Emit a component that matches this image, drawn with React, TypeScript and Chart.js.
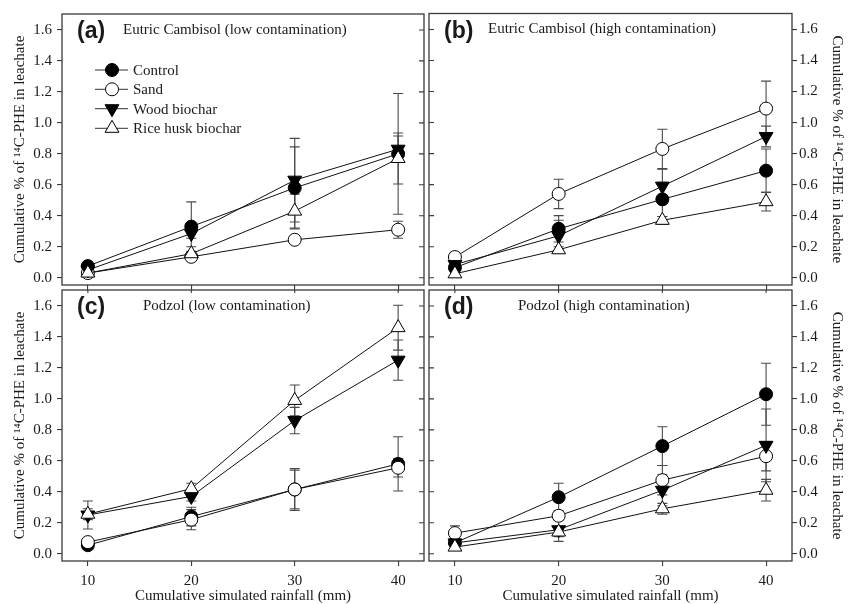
import React, { useEffect, useRef } from 'react';
import { Chart, registerables } from 'chart.js';

Chart.register(...registerables);

const W = 848;
const H = 604;

const xValues = [10, 20, 30, 40];
const xTicks = [10, 20, 30, 40];
const yTicks = [0, 0.2, 0.4, 0.6, 0.8, 1.0, 1.2, 1.4, 1.6];
const seriesNames = ['Control', 'Sand', 'Wood biochar', 'Rice husk biochar'];
const yTitle = 'Cumulative % of \u00B9\u2074C-PHE in leachate';
const xTitle = 'Cumulative simulated rainfall (mm)';

// (a) Eutric Cambisol (low contamination)
const aControl = [0.075, 0.33, 0.58, 0.8];
const aControlErr = [0.02, 0.16, 0.265, 0.39];
const aSand = [0.03, 0.135, 0.245, 0.31];
const aSandErr = [0.01, 0.02, 0.02, 0.055];
const aWood = [0.05, 0.285, 0.63, 0.83];
const aWoodErr = [0.01, 0.03, 0.27, 0.085];
const aRice = [0.03, 0.155, 0.43, 0.77];
const aRiceErr = [0.01, 0.045, 0.11, 0.165];

// (b) Eutric Cambisol (high contamination)
const bControl = [0.065, 0.315, 0.505, 0.69];
const bControlErr = [0.02, 0.085, 0.11, 0.14];
const bSand = [0.133, 0.54, 0.83, 1.09];
const bSandErr = [0.03, 0.095, 0.127, 0.177];
const bWood = [0.085, 0.27, 0.59, 0.91];
const bWoodErr = [0.02, 0.1, 0.11, 0.067];
const bRice = [0.025, 0.18, 0.37, 0.49];
const bRiceErr = [0.01, 0.02, 0.025, 0.06];

// (c) Podzol (low contamination)
const cControl = [0.055, 0.24, 0.415, 0.58];
const cControlErr = [0.01, 0.06, 0.135, 0.175];
const cSand = [0.075, 0.22, 0.415, 0.555];
const cSandErr = [0.01, 0.065, 0.125, 0.06];
const cWood = [0.25, 0.37, 0.86, 1.25];
const cWoodErr = [0.09, 0.03, 0.085, 0.13];
const cRice = [0.255, 0.42, 0.99, 1.46];
const cRiceErr = [0.035, 0.035, 0.1, 0.145];

// (d) Podzol (high contamination)
const dControl = [0.07, 0.365, 0.695, 1.03];
const dControlErr = [0.02, 0.09, 0.125, 0.2];
const dSand = [0.133, 0.245, 0.475, 0.63];
const dSandErr = [0.047, 0.03, 0.095, 0.095];
const dWood = [0.07, 0.155, 0.41, 0.7];
const dWoodErr = [0.02, 0.075, 0.1, 0.235];
const dRice = [0.043, 0.14, 0.29, 0.41];
const dRiceErr = [0.01, 0.03, 0.035, 0.07];

const Y_MIN = -0.047;
const Y_MAX = 1.703;
const X_MIN = 7.5;
const X_MAX = 42.5;

const SERIF = "'Liberation Serif', 'Times New Roman', serif";
const SANS = "'Liberation Sans', Arial, sans-serif";
const FRAME = '#3a3a3a';
const TEXT = '#1a1a1a';

type Marker = { style: 'circle' | 'triangle'; fill: string; radius: number; rotation: number };
const markers: Marker[] = [
  { style: 'circle', fill: '#000000', radius: 6.5, rotation: 0 },
  { style: 'circle', fill: '#ffffff', radius: 6.5, rotation: 0 },
  { style: 'triangle', fill: '#000000', radius: 8, rotation: 180 },
  { style: 'triangle', fill: '#ffffff', radius: 8, rotation: 0 },
];

type Panel = {
  tag: string;
  subtitle: string;
  col: 0 | 1;
  row: 0 | 1;
  values: number[][];
  errors: number[][];
  legend: boolean;
  subtitleX: number;
};

const panels: Panel[] = [
  {
    tag: '(a)', subtitle: 'Eutric Cambisol (low contamination)', col: 0, row: 0,
    values: [aControl, aSand, aWood, aRice], errors: [aControlErr, aSandErr, aWoodErr, aRiceErr],
    legend: true, subtitleX: 123,
  },
  {
    tag: '(b)', subtitle: 'Eutric Cambisol (high contamination)', col: 1, row: 0,
    values: [bControl, bSand, bWood, bRice], errors: [bControlErr, bSandErr, bWoodErr, bRiceErr],
    legend: false, subtitleX: 488,
  },
  {
    tag: '(c)', subtitle: 'Podzol (low contamination)', col: 0, row: 1,
    values: [cControl, cSand, cWood, cRice], errors: [cControlErr, cSandErr, cWoodErr, cRiceErr],
    legend: false, subtitleX: 143,
  },
  {
    tag: '(d)', subtitle: 'Podzol (high contamination)', col: 1, row: 1,
    values: [dControl, dSand, dWood, dRice], errors: [dControlErr, dSandErr, dWoodErr, dRiceErr],
    legend: false, subtitleX: 518,
  },
];

// plot-area geometry for columns / rows
const colLeft = [62, 429];
const colRight = [424, 792];
const rowTop = [13.5, 290];
const rowBottom = [285, 561];

function drawMarker(ctx: CanvasRenderingContext2D, m: Marker, x: number, y: number) {
  ctx.save();
  ctx.beginPath();
  if (m.style === 'circle') {
    ctx.arc(x, y, m.radius, 0, Math.PI * 2);
  } else {
    let rad = (m.rotation * Math.PI) / 180;
    for (let k = 0; k < 3; k++) {
      const px = x + Math.sin(rad) * m.radius;
      const py = y - Math.cos(rad) * m.radius;
      if (k === 0) ctx.moveTo(px, py);
      else ctx.lineTo(px, py);
      rad += (2 * Math.PI) / 3;
    }
    ctx.closePath();
  }
  ctx.fillStyle = m.fill;
  ctx.fill();
  ctx.lineWidth = 1;
  ctx.strokeStyle = '#000';
  ctx.stroke();
  ctx.restore();
}

function makePlugin(p: Panel) {
  return {
    id: 'panelDeco' + p.tag,
    beforeDatasetsDraw(chart: any) {
      const ctx: CanvasRenderingContext2D = chart.ctx;
      const xs = chart.scales.x;
      const ys = chart.scales.y;
      ctx.save();
      ctx.strokeStyle = '#4a4a4a';
      ctx.lineWidth = 1.1;
      p.values.forEach((vals, i) => {
        const errs = p.errors[i];
        vals.forEach((v, j) => {
          const x = xs.getPixelForValue(xValues[j]);
          const yTop = ys.getPixelForValue(v + errs[j]);
          const yBot = ys.getPixelForValue(v - errs[j]);
          ctx.beginPath();
          ctx.moveTo(x, yTop);
          ctx.lineTo(x, yBot);
          ctx.moveTo(x - 5, yTop);
          ctx.lineTo(x + 5, yTop);
          ctx.moveTo(x - 5, yBot);
          ctx.lineTo(x + 5, yBot);
          ctx.stroke();
        });
      });
      ctx.restore();
    },
    afterDraw(chart: any) {
      const ctx: CanvasRenderingContext2D = chart.ctx;
      const a = chart.chartArea;
      const xs = chart.scales.x;
      const ys = chart.scales.y;
      ctx.save();
      ctx.strokeStyle = FRAME;
      ctx.lineWidth = 1.3;
      ctx.strokeRect(a.left, a.top, a.right - a.left, a.bottom - a.top);
      // inner y ticks on the side facing the neighbouring panel
      ctx.beginPath();
      yTicks.forEach((v) => {
        const y = ys.getPixelForValue(v);
        if (p.col === 0) {
          ctx.moveTo(a.right - 5, y);
          ctx.lineTo(a.right, y);
        } else {
          ctx.moveTo(a.left, y);
          ctx.lineTo(a.left + 5, y);
        }
      });
      if (p.row === 1) {
        xTicks.forEach((v) => {
          const x = xs.getPixelForValue(v);
          ctx.moveTo(x, a.top);
          ctx.lineTo(x, a.top + 3);
        });
      }
      ctx.lineWidth = 1.1;
      ctx.stroke();

      // panel tag and subtitle
      ctx.fillStyle = TEXT;
      ctx.textBaseline = 'middle';
      ctx.textAlign = 'left';
      ctx.font = `bold 23px ${SANS}`;
      ctx.fillText(p.tag, a.left + 15, a.top + 18);
      ctx.font = `15px ${SERIF}`;
      ctx.fillText(p.subtitle, p.subtitleX, a.top + 16);

      if (p.legend) {
        const rowsY = [70, 89.3, 108.7, 128.3];
        seriesNames.forEach((name, i) => {
          const y = rowsY[i];
          ctx.beginPath();
          ctx.moveTo(95, y);
          ctx.lineTo(128, y);
          ctx.strokeStyle = '#333';
          ctx.lineWidth = 1;
          ctx.stroke();
          drawMarker(ctx, markers[i], 112, y);
          ctx.fillStyle = TEXT;
          ctx.font = `15px ${SERIF}`;
          ctx.textBaseline = 'middle';
          ctx.fillText(name, 133, y + 1);
        });
      }
      ctx.restore();
    },
  };
}

function PanelChart({ p }: { p: Panel }) {
  const ref = useRef<HTMLCanvasElement | null>(null);
  useEffect(() => {
    if (!ref.current) return;
    const left = colLeft[p.col];
    const right = colRight[p.col];
    const top = rowTop[p.row];
    const bottom = rowBottom[p.row];
    const yAxisWidth = p.col === 0 ? left : W - right;
    const xAxisHeight = p.row === 0 ? 10 : H - bottom;

    // draw order: later series on top -> give datasets in reverse
    const order = [3, 2, 1, 0];
    const datasets = order.map((i) => ({
      label: seriesNames[i],
      data: p.values[i].map((v, j) => ({ x: xValues[j], y: v })),
      borderColor: '#111',
      borderWidth: 1,
      backgroundColor: markers[i].fill,
      pointBackgroundColor: markers[i].fill,
      pointBorderColor: '#000',
      pointBorderWidth: 1,
      pointStyle: markers[i].style,
      pointRadius: markers[i].radius,
      pointRotation: markers[i].rotation,
      pointHoverRadius: markers[i].radius,
      tension: 0,
      fill: false,
    }));

    const chart = new Chart(ref.current, {
      type: 'line',
      data: { datasets },
      options: {
        responsive: false,
        animation: false,
        events: [],
        layout: {
          padding: {
            left: p.col === 0 ? 0 : left,
            right: p.col === 0 ? W - right : 0,
            top: top,
            bottom: H - bottom - xAxisHeight,
          },
        },
        plugins: {
          legend: { display: false },
          tooltip: { enabled: false },
          title: { display: false },
        },
        scales: {
          x: {
            type: 'linear',
            position: 'bottom',
            min: X_MIN,
            max: X_MAX,
            afterBuildTicks: (s: any) => {
              s.ticks = xTicks.map((v) => ({ value: v }));
            },
            afterFit: (s: any) => {
              s.height = xAxisHeight;
            },
            border: { display: false },
            grid: {
              display: true,
              drawOnChartArea: false,
              drawTicks: true,
              tickLength: 5,
              color: FRAME,
              lineWidth: 1.1,
            },
            ticks: {
              display: p.row === 1,
              padding: 6,
              color: TEXT,
              font: { family: SERIF, size: 15 },
              maxRotation: 0,
              callback: (v: any) => String(v),
            },
            title: {
              display: p.row === 1,
              text: xTitle,
              color: TEXT,
              font: { family: SERIF, size: 15, lineHeight: 1.0 },
              padding: { top: 0, bottom: 0 },
            },
          },
          y: {
            type: 'linear',
            position: p.col === 0 ? 'left' : 'right',
            min: Y_MIN,
            max: Y_MAX,
            afterBuildTicks: (s: any) => {
              s.ticks = yTicks.map((v) => ({ value: v }));
            },
            afterFit: (s: any) => {
              s.width = yAxisWidth;
            },
            border: { display: false },
            grid: {
              display: true,
              drawOnChartArea: false,
              drawTicks: true,
              tickLength: 5,
              color: FRAME,
              lineWidth: 1.1,
            },
            ticks: {
              padding: p.col === 0 ? 5 : 2,
              color: TEXT,
              font: { family: SERIF, size: 15 },
              callback: (v: any) => Number(v).toFixed(1),
            },
            title: {
              display: true,
              text: yTitle,
              color: TEXT,
              font: { family: SERIF, size: 15 },
              padding: { top: p.col === 0 ? 11 : 2, bottom: 0 },
            },
          },
        },
      } as any,
      plugins: [makePlugin(p)],
    });
    return () => chart.destroy();
  }, [p]);
  return (
    <canvas
      ref={ref}
      width={W}
      height={H}
      style={{ position: 'absolute', left: 0, top: 0, width: W, height: H }}
    />
  );
}

export default function App() {
  return (
    <div style={{ position: 'fixed', left: 0, top: 0, width: W, height: H, background: '#fff' }}>
      {panels.map((p) => (
        <PanelChart key={p.tag} p={p} />
      ))}
    </div>
  );
}
